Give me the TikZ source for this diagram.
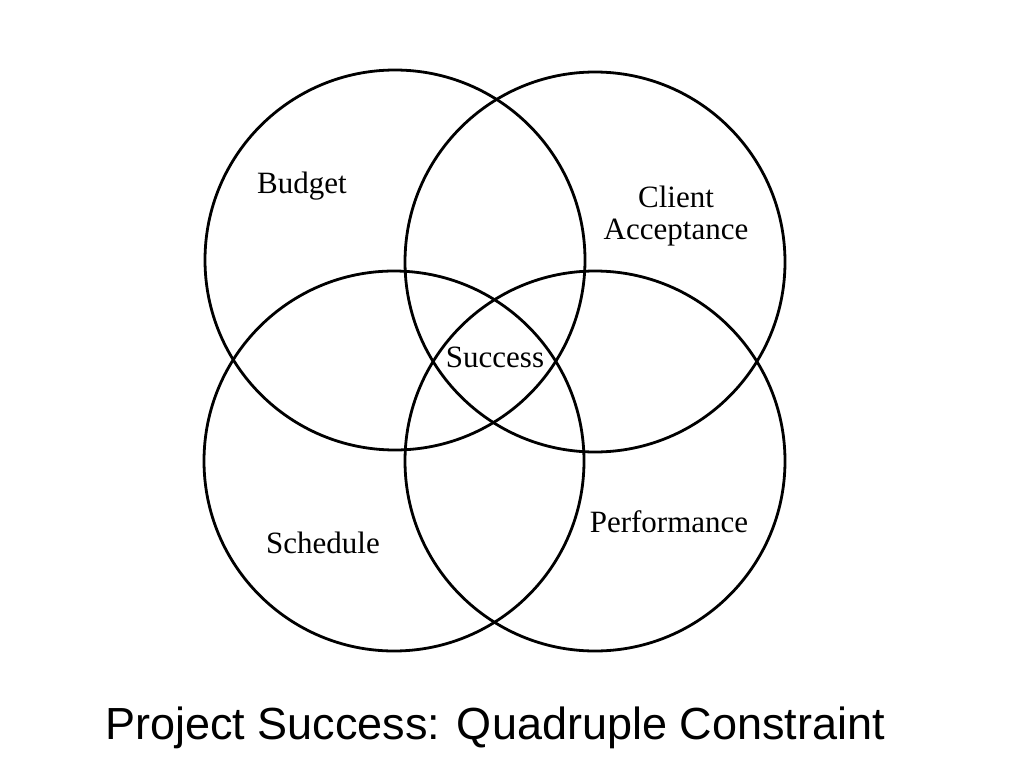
\documentclass[tikz,border=0pt]{standalone}
\usepackage{fontspec}
\setmainfont{Liberation Serif}
\newfontfamily\titlefont{Liberation Sans}
\begin{document}
\begin{tikzpicture}[x=1pt,y=-1pt,
  ring/.style={draw=black,line width=2.8pt},
  lbl/.style={font=\fontsize{31}{34}\selectfont,anchor=base,inner sep=0pt},
  ttl/.style={font=\titlefont\fontsize{45}{50}\selectfont,anchor=base,inner sep=0pt}]
\useasboundingbox (0,0) rectangle (1024,768);
\draw[ring] (395,260) circle[radius=190pt];
\draw[ring] (595,262) circle[radius=190pt];
\draw[ring] (394,461) circle[radius=190pt];
\draw[ring] (595,461) circle[radius=190pt];
\node[lbl] (budget) at (302,193) {Budget};
\node[lbl] (client) at (676,207) {Client};
\node[lbl] (accept) at (676,239) {Acceptance};
\node[lbl] (success) at (495,367) {Success};
\node[lbl] (schedule) at (323,553) {Schedule};
\node[lbl] (perf) at (669,532) {Performance};
\node[ttl] (title) at (495,739) {Project Success: Quadruple Constraint};
\end{tikzpicture}
\end{document}
